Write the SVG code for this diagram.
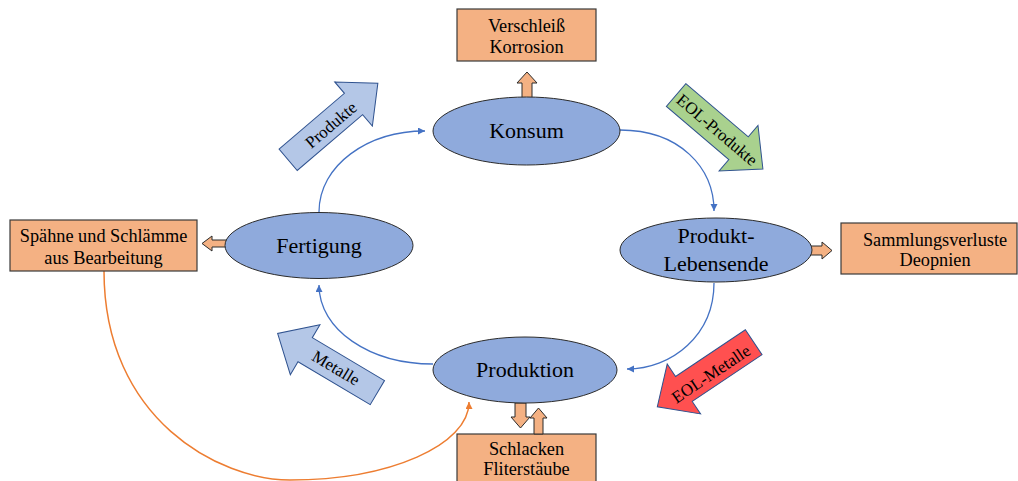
<svg xmlns="http://www.w3.org/2000/svg" width="1018" height="481" viewBox="0 0 1018 481">
<defs>
<style>
.ell{fill:#8FAADC;stroke:#2B2B2B;stroke-width:1}
.box{fill:#F4B183;stroke:#3A3A3A;stroke-width:1.2}
.sa{fill:#F4B183;stroke:#2B2B2B;stroke-width:1}
text{font-family:'Liberation Serif','DejaVu Serif',serif;fill:#000;text-anchor:middle}
.tn{font-size:22px}
.tb{font-size:18.3px}
.ta{font-size:17px}
.blue{fill:#B4C7E7;stroke:#2F528F;stroke-width:1}
.green{fill:#A9D18E;stroke:#2F528F;stroke-width:1}
.red{fill:#FF5050;stroke:#2F528F;stroke-width:1}
.c{fill:none;stroke:#4472C4;stroke-width:1.3}
.co{fill:none;stroke:#ED7D31;stroke-width:1.5}
</style>
<marker id="ab" markerUnits="userSpaceOnUse" markerWidth="8" markerHeight="8" refX="7" refY="3.5" orient="auto"><path d="M0,0 L7,3.5 L0,7 Z" fill="#4472C4"/></marker>
<marker id="ao" markerUnits="userSpaceOnUse" markerWidth="8" markerHeight="8" refX="7" refY="3.5" orient="auto"><path d="M0,0 L7,3.5 L0,7 Z" fill="#ED7D31"/></marker>
</defs>
<rect width="1018" height="481" fill="#fff"/>

<g id="connectors">
<path class="c" d="M319,212 C319,165 368,131 425,131" marker-end="url(#ab)"/>
<path class="c" d="M620,130 C680,130 714,168 714,211" marker-end="url(#ab)"/>
<path class="c" d="M714,283 C714,335 672,369 627,369" marker-end="url(#ab)"/>
<path class="c" d="M433,364 C370,364 319,330 319,285" marker-end="url(#ab)"/>
<path class="co" d="M104,271 C104,420 220,480 290,480 C390,480 469,445 469,402" marker-end="url(#ao)"/>
</g>

<g font-family="Liberation Serif, serif">
<g id="arrow-produkte">
<g transform="translate(333,121.5) rotate(-40.5)"><path class="blue" d="M-59,-14 L27,-14 L27,-29 L59,0 L27,29 L27,14 L-59,14 Z"/></g>
<text class="ta" transform="translate(331,125) rotate(-40.5)" dy="0.33em">Produkte</text>
</g>
<g id="arrow-eol-produkte">
<g transform="translate(719.5,132) rotate(40.4)"><path class="green" d="M-57,-15 L25,-15 L25,-30 L57,0 L25,30 L25,15 L-57,15 Z"/></g>
<text class="ta" transform="translate(717,130) rotate(40.4)" dy="0.33em">EOL-Produkte</text>
</g>
<g id="arrow-eol-metalle">
<g transform="translate(705.5,374.5) rotate(146.2)"><path class="red" d="M-58,-15 L26,-15 L26,-30 L58,0 L26,30 L26,15 L-58,15 Z"/></g>
<text class="ta" transform="translate(711,374) rotate(-33.8)" dy="0.33em">EOL-Metalle</text>
</g>
<g id="arrow-metalle">
<g transform="translate(327.5,363) rotate(210.7)"><path class="blue" d="M-58,-14 L26,-14 L26,-29 L58,0 L26,29 L26,14 L-58,14 Z"/></g>
<text class="ta" transform="translate(336,368) rotate(30.7)" dy="0.33em">Metalle</text>
</g>

<g id="node-verschleiss">
<rect class="box" x="457" y="9" width="139" height="52"/>
<text class="tb" x="526.5" y="32">Verschleiß</text>
<text class="tb" x="526.5" y="52.5">Korrosion</text>
<path class="sa" d="M522,98 L522,83 L517,83 L527,72 L537,83 L532,83 L532,98 Z"/>
</g>
<g id="node-spaehne">
<rect class="box" x="10" y="220" width="187" height="51"/>
<text class="tb" x="103.5" y="242">Spähne und Schlämme</text>
<text class="tb" x="103.5" y="264">aus Bearbeitung</text>
<path class="sa" d="M227,240 L212,240 L212,236 L202,243.5 L212,251 L212,247 L227,247 Z"/>
</g>
<g id="node-sammlung">
<rect class="box" x="841" y="223" width="176" height="51"/>
<text class="tb" x="935" y="246">Sammlungsverluste</text>
<text class="tb" x="935" y="266">Deopnien</text>
<path class="sa" d="M808,246 L822,246 L822,242 L832,250.5 L822,259 L822,255 L808,255 Z"/>
</g>
<g id="node-schlacken">
<rect class="box" x="457" y="434" width="139" height="60"/>
<text class="tb" x="526.5" y="455">Schlacken</text>
<text class="tb" x="526.5" y="475">Fliterstäube</text>
<path class="sa" d="M515,403 L515,417 L511,417 L520.5,428 L530,417 L526,417 L526,403 Z"/>
<path class="sa" d="M534,434 L534,418 L530,418 L538.5,408 L547,418 L543,418 L543,434 Z"/>
</g>

<g id="node-konsum">
<ellipse class="ell" cx="526.5" cy="131" rx="93.5" ry="34"/>
<text class="tn" x="526.5" y="138">Konsum</text>
</g>
<g id="node-fertigung">
<ellipse class="ell" cx="319" cy="245.5" rx="94" ry="33"/>
<text class="tn" x="319" y="253">Fertigung</text>
</g>
<g id="node-lebensende">
<ellipse class="ell" cx="716" cy="250" rx="96" ry="32"/>
<text class="tn" x="716" y="243">Produkt-</text>
<text class="tn" x="716" y="271">Lebensende</text>
</g>
<g id="node-produktion">
<ellipse class="ell" cx="525" cy="370" rx="92" ry="33"/>
<text class="tn" x="525" y="377">Produktion</text>
</g>
</g>
</svg>
